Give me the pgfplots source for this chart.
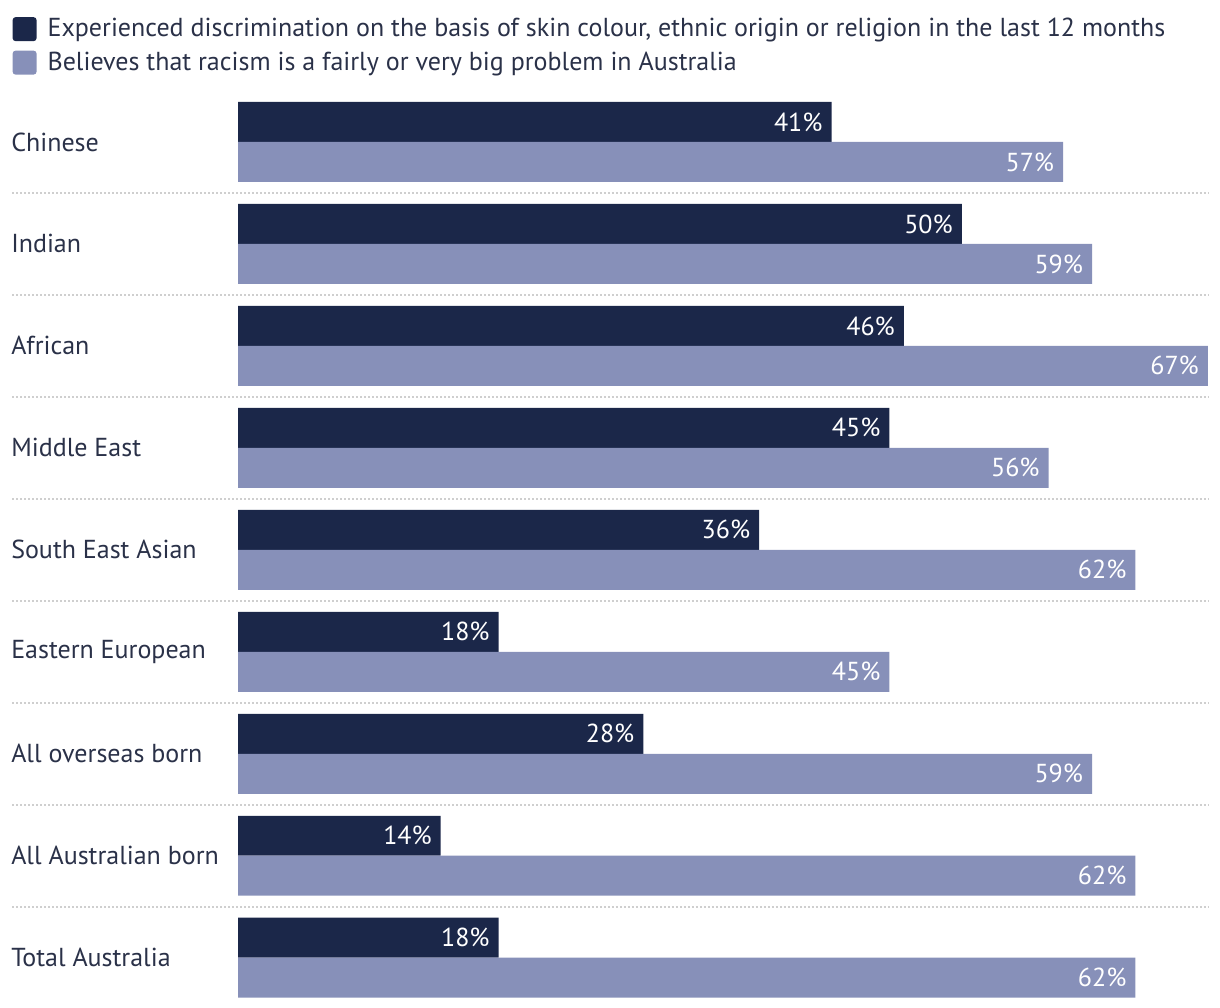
\documentclass[border=0pt]{standalone}
\usepackage{pgfplots}
\pgfplotsset{compat=1.18}
\usepackage{fontspec}
\setmainfont{PT Sans}
\definecolor{navy}{HTML}{1B2749}
\definecolor{lilac}{HTML}{8790B9}
\definecolor{txt}{HTML}{2A3148}
\definecolor{sep}{HTML}{CFCFCF}
\begin{document}
\begin{tikzpicture}
\begin{axis}[
  scale only axis,
  width=610pt, height=504pt,
  xmin=-16.438, xmax=67.827,
  ymin=-1.392, ymax=8.490,
  y dir=reverse,
  xbar, bar width=20pt,
  hide x axis,
  y axis line style={draw=none},
  major tick length=0pt,
  ytick={0,...,8},
  yticklabels={Chinese, Indian, African, Middle East, South East Asian,
    Eastern European, All overseas born, All Australian born, Total Australia},
  yticklabel style={anchor=west, xshift=2pt, font=\fontsize{13}{15}\selectfont, text=txt},
  clip=false,
  /pgf/number format/assume math mode=true,
  nodes near coords={\pgfmathprintnumber{\pgfplotspointmeta}\%},
  nodes near coords style={anchor=east, xshift=-1pt, text=white, font=\fontsize{13}{15}\selectfont},
  legend style={at={(axis description cs:0,1)}, anchor=north west,
    draw=none, fill=none, inner xsep=0pt, inner ysep=0pt, yshift=-7pt, xshift=6pt,
    font=\fontsize{13}{15}\selectfont, text=txt, row sep=2pt},
  legend cell align=left,
]
\foreach \k in {0,...,7} {
  \edef\tmp{\noexpand\draw[sep, line width=1pt, dash pattern=on 1pt off 1pt]
    (axis cs:-15.61,\k+0.5) -- (axis cs:67,\k+0.5);}
  \tmp
}
\addplot[fill=navy, draw=none, bar shift=10pt,
  legend image code/.code={\fill[navy, rounded corners=1.5pt] (0pt,-6pt) rectangle (12pt,6pt); \path (15.5pt,0pt);}]
  coordinates {(41,0) (50,1) (46,2) (45,3) (36,4) (18,5) (28,6) (14,7) (18,8)};
\addplot[fill=lilac, draw=none, bar shift=-10pt,
  legend image code/.code={\fill[lilac, rounded corners=1.5pt] (0pt,-6pt) rectangle (12pt,6pt); \path (15.5pt,0pt);}]
  coordinates {(57,0) (59,1) (67,2) (56,3) (62,4) (45,5) (59,6) (62,7) (62,8)};
\legend{{Experienced discrimination on the basis of skin colour, ethnic origin or religion in the last 12 months},
  {Believes that racism is a fairly or very big problem in Australia}}
\end{axis}
\end{tikzpicture}
\end{document}
